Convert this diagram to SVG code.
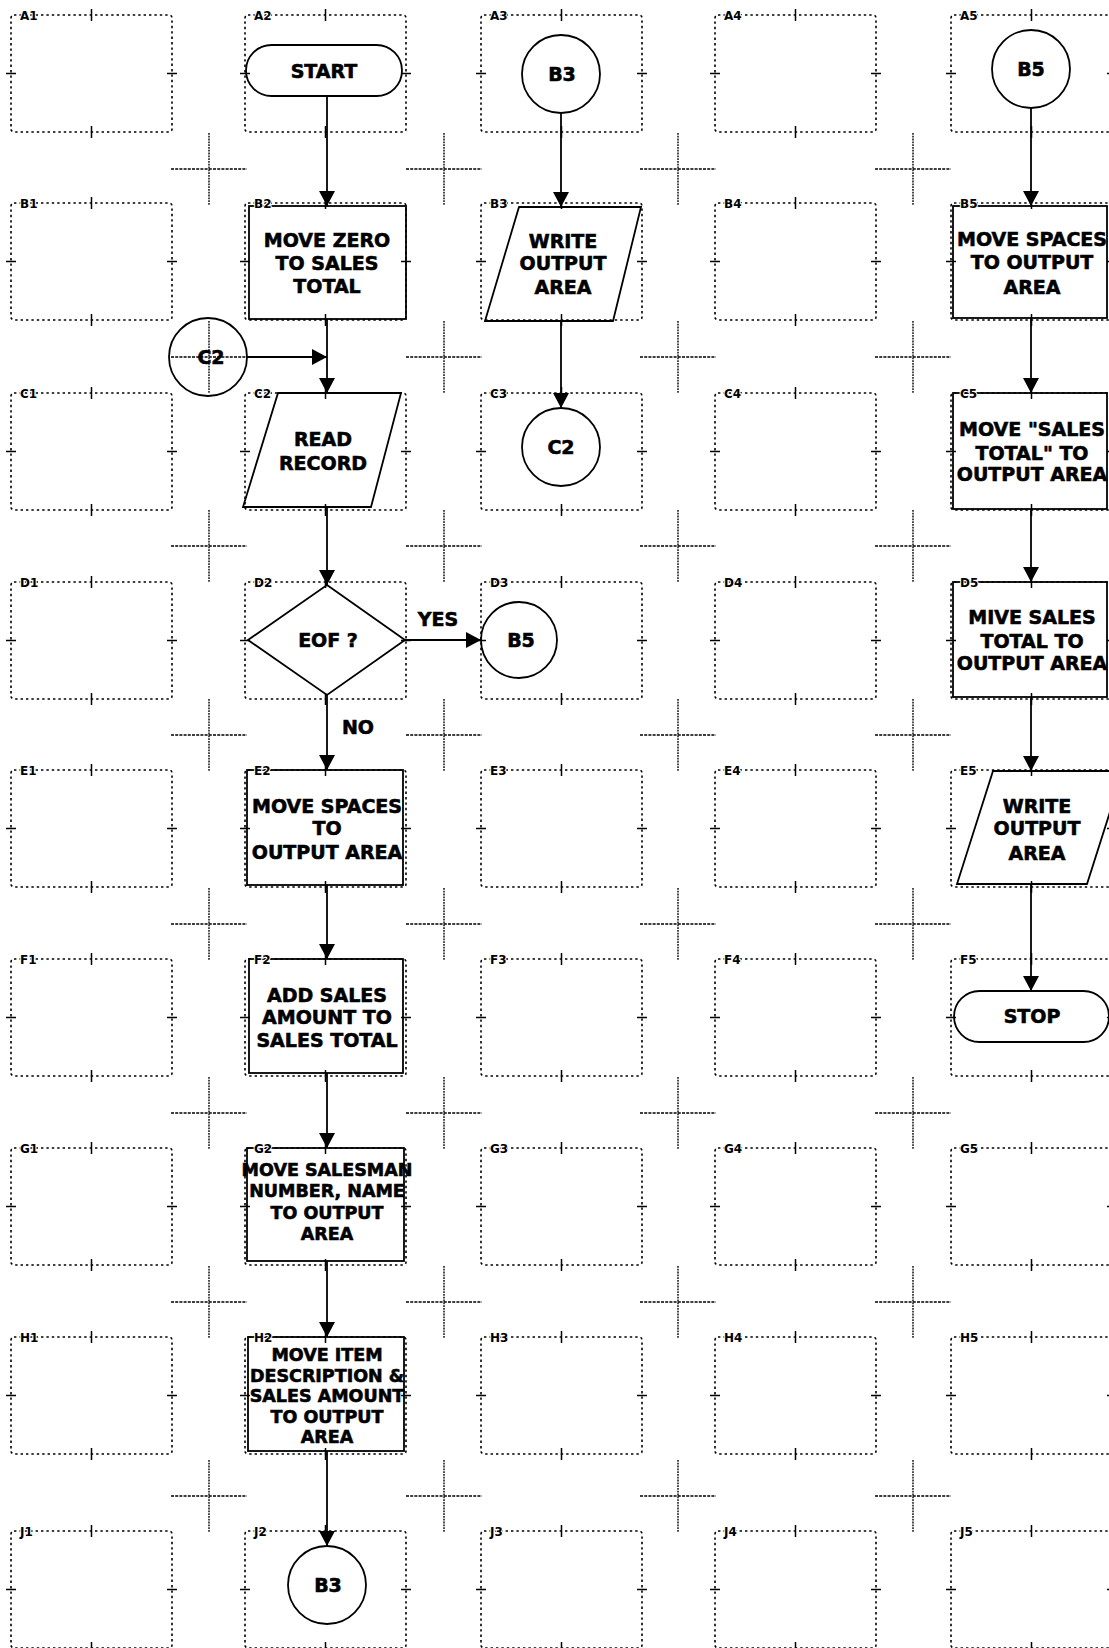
<svg xmlns="http://www.w3.org/2000/svg" width="1109" height="1648" viewBox="0 0 1109 1648">
<style>
.g{fill:none;stroke:#000;stroke-width:1.6;stroke-dasharray:2.4 3}
.tk{stroke:#000;stroke-width:1.5;fill:none}
.xh{stroke:#000;stroke-width:1.4;stroke-dasharray:3 1.2}
.xv{stroke:#000;stroke-width:1.4;stroke-dasharray:1.8 1}
.lb{font-family:'DejaVu Sans','Liberation Sans',sans-serif;font-weight:bold;font-size:12px;fill:#000;stroke:#fff;stroke-width:2;paint-order:stroke}
.s{fill:none;stroke:#000;stroke-width:1.8}
.t{font-family:'DejaVu Sans','Liberation Sans',sans-serif;font-weight:bold;font-size:19px;text-anchor:middle;fill:#000;stroke:#000;stroke-width:0.6}
.ts{font-size:17.5px}
.e{stroke:#000;stroke-width:1.8;fill:none}
.ah{fill:#000;stroke:none}
</style>
<defs>
<marker id="arr" markerUnits="userSpaceOnUse" markerWidth="16" markerHeight="16" refX="15" refY="8" orient="auto">
<path class="ah" d="M0,0 L15,8 L0,16 Z"/>
</marker>
<g id="cell"><rect class="g" x="0" y="0" width="161" height="117" rx="3"/><path class="tk" d="M80.5,-6V6M80.5,111V123M-5,58.5H5M156,58.5H166"/></g>
<g id="cross"><line class="xh" x1="-38" y1="0" x2="38" y2="0"/><line class="xv" x1="0" y1="-36" x2="0" y2="36"/></g>
</defs>
<rect width="1109" height="1648" fill="#fff"/>
<g id="grid">
<use href="#cell" x="11" y="15"/><use href="#cell" x="245" y="15"/><use href="#cell" x="481" y="15"/><use href="#cell" x="715" y="15"/><use href="#cell" x="951" y="15"/>
<use href="#cell" x="11" y="203"/><use href="#cell" x="245" y="203"/><use href="#cell" x="481" y="203"/><use href="#cell" x="715" y="203"/><use href="#cell" x="951" y="203"/>
<use href="#cell" x="11" y="393"/><use href="#cell" x="245" y="393"/><use href="#cell" x="481" y="393"/><use href="#cell" x="715" y="393"/><use href="#cell" x="951" y="393"/>
<use href="#cell" x="11" y="582"/><use href="#cell" x="245" y="582"/><use href="#cell" x="481" y="582"/><use href="#cell" x="715" y="582"/><use href="#cell" x="951" y="582"/>
<use href="#cell" x="11" y="770"/><use href="#cell" x="245" y="770"/><use href="#cell" x="481" y="770"/><use href="#cell" x="715" y="770"/><use href="#cell" x="951" y="770"/>
<use href="#cell" x="11" y="959"/><use href="#cell" x="245" y="959"/><use href="#cell" x="481" y="959"/><use href="#cell" x="715" y="959"/><use href="#cell" x="951" y="959"/>
<use href="#cell" x="11" y="1148"/><use href="#cell" x="245" y="1148"/><use href="#cell" x="481" y="1148"/><use href="#cell" x="715" y="1148"/><use href="#cell" x="951" y="1148"/>
<use href="#cell" x="11" y="1337"/><use href="#cell" x="245" y="1337"/><use href="#cell" x="481" y="1337"/><use href="#cell" x="715" y="1337"/><use href="#cell" x="951" y="1337"/>
<use href="#cell" x="11" y="1531"/><use href="#cell" x="245" y="1531"/><use href="#cell" x="481" y="1531"/><use href="#cell" x="715" y="1531"/><use href="#cell" x="951" y="1531"/>
</g>
<g id="crosshairs">
<use href="#cross" x="209" y="169"/><use href="#cross" x="444" y="169"/><use href="#cross" x="678" y="169"/><use href="#cross" x="913" y="169"/>
<use href="#cross" x="209" y="357"/><use href="#cross" x="444" y="357"/><use href="#cross" x="678" y="357"/><use href="#cross" x="913" y="357"/>
<use href="#cross" x="209" y="546"/><use href="#cross" x="444" y="546"/><use href="#cross" x="678" y="546"/><use href="#cross" x="913" y="546"/>
<use href="#cross" x="209" y="735"/><use href="#cross" x="444" y="735"/><use href="#cross" x="678" y="735"/><use href="#cross" x="913" y="735"/>
<use href="#cross" x="209" y="924"/><use href="#cross" x="444" y="924"/><use href="#cross" x="678" y="924"/><use href="#cross" x="913" y="924"/>
<use href="#cross" x="209" y="1113"/><use href="#cross" x="444" y="1113"/><use href="#cross" x="678" y="1113"/><use href="#cross" x="913" y="1113"/>
<use href="#cross" x="209" y="1302"/><use href="#cross" x="444" y="1302"/><use href="#cross" x="678" y="1302"/><use href="#cross" x="913" y="1302"/>
<use href="#cross" x="209" y="1496"/><use href="#cross" x="444" y="1496"/><use href="#cross" x="678" y="1496"/><use href="#cross" x="913" y="1496"/>
</g>
<g id="connectors" class="e">
<line x1="327" y1="96" x2="327" y2="206" marker-end="url(#arr)"/>
<line x1="327" y1="319" x2="327" y2="393" marker-end="url(#arr)"/>
<line x1="247" y1="357" x2="327" y2="357" marker-end="url(#arr)"/>
<line x1="327" y1="507" x2="327" y2="585" marker-end="url(#arr)"/>
<line x1="405" y1="640" x2="481" y2="640" marker-end="url(#arr)"/>
<line x1="327" y1="695" x2="327" y2="770" marker-end="url(#arr)"/>
<line x1="327" y1="885" x2="327" y2="959" marker-end="url(#arr)"/>
<line x1="327" y1="1073" x2="327" y2="1148" marker-end="url(#arr)"/>
<line x1="327" y1="1261" x2="327" y2="1337" marker-end="url(#arr)"/>
<line x1="327" y1="1451" x2="327" y2="1546" marker-end="url(#arr)"/>
<line x1="561" y1="113" x2="561" y2="207" marker-end="url(#arr)"/>
<line x1="561" y1="321" x2="561" y2="408" marker-end="url(#arr)"/>
<line x1="1031" y1="108" x2="1031" y2="206" marker-end="url(#arr)"/>
<line x1="1031" y1="318" x2="1031" y2="393" marker-end="url(#arr)"/>
<line x1="1031" y1="509" x2="1031" y2="582" marker-end="url(#arr)"/>
<line x1="1031" y1="697" x2="1031" y2="771" marker-end="url(#arr)"/>
<line x1="1031" y1="884" x2="1031" y2="991" marker-end="url(#arr)"/>
<text class="t" x="438" y="626">YES</text>
<text class="t" x="358" y="734">NO</text>
</g>
<g id="start"><rect class="s" x="246" y="45" width="156" height="51" rx="25.5"/><text class="t" x="324" y="78">START</text></g>
<g id="b2"><rect class="s" x="249" y="206" width="157" height="113"/><text class="t" x="327" y="247">MOVE ZERO</text><text class="t" x="327" y="270">TO SALES</text><text class="t" x="327" y="293">TOTAL</text></g>
<g id="c2-in"><circle class="s" cx="208" cy="357" r="39"/><text class="t" x="211" y="364">C2</text></g>
<g id="c2"><polygon class="s" points="278,393 401,393 371,507 243,507"/><text class="t" x="323" y="446">READ</text><text class="t" x="323" y="470">RECORD</text></g>
<g id="d2"><polygon class="s" points="327,585 405,640 327,695 248,640"/><text class="t" x="328" y="647">EOF ?</text></g>
<g id="d3"><circle class="s" cx="519" cy="640" r="38"/><text class="t" x="521" y="647">B5</text></g>
<g id="e2"><rect class="s" x="247" y="770" width="156" height="115"/><text class="t" x="327" y="813">MOVE SPACES</text><text class="t" x="327" y="835">TO</text><text class="t" x="327" y="859">OUTPUT AREA</text></g>
<g id="f2"><rect class="s" x="249" y="959" width="154" height="114"/><text class="t" x="327" y="1002">ADD SALES</text><text class="t" x="327" y="1024">AMOUNT TO</text><text class="t" x="327" y="1047">SALES TOTAL</text></g>
<g id="g2"><rect class="s" x="247" y="1148" width="157" height="113"/><text class="t ts" x="327" y="1176">MOVE SALESMAN</text><text class="t ts" x="327" y="1197">NUMBER, NAME</text><text class="t ts" x="327" y="1219">TO OUTPUT</text><text class="t ts" x="327" y="1240">AREA</text></g>
<g id="h2"><rect class="s" x="248" y="1337" width="156" height="114"/><text class="t ts" x="327" y="1361">MOVE ITEM</text><text class="t ts" x="327" y="1382">DESCRIPTION &amp;</text><text class="t ts" x="327" y="1402">SALES AMOUNT</text><text class="t ts" x="327" y="1423">TO OUTPUT</text><text class="t ts" x="327" y="1443">AREA</text></g>
<g id="j2"><circle class="s" cx="327" cy="1585" r="39"/><text class="t" x="328" y="1592">B3</text></g>
<g id="a3"><circle class="s" cx="561" cy="74" r="39"/><text class="t" x="562" y="81">B3</text></g>
<g id="b3"><polygon class="s" points="519,207 641,207 613,321 485,321"/><text class="t" x="563" y="248">WRITE</text><text class="t" x="563" y="270">OUTPUT</text><text class="t" x="563" y="294">AREA</text></g>
<g id="c3"><circle class="s" cx="561" cy="447" r="39"/><text class="t" x="561" y="454">C2</text></g>
<g id="a5"><circle class="s" cx="1031" cy="69" r="39"/><text class="t" x="1031" y="76">B5</text></g>
<g id="b5"><rect class="s" x="953" y="206" width="154" height="112"/><text class="t" x="1032" y="246">MOVE SPACES</text><text class="t" x="1032" y="269">TO OUTPUT</text><text class="t" x="1032" y="294">AREA</text></g>
<g id="c5"><rect class="s" x="953" y="393" width="154" height="116"/><text class="t" x="1032" y="436">MOVE "SALES</text><text class="t" x="1032" y="460">TOTAL" TO</text><text class="t" x="1032" y="481">OUTPUT AREA</text></g>
<g id="d5"><rect class="s" x="953" y="582" width="154" height="115"/><text class="t" x="1032" y="624">MIVE SALES</text><text class="t" x="1032" y="648">TOTAL TO</text><text class="t" x="1032" y="670">OUTPUT AREA</text></g>
<g id="e5"><polygon class="s" points="993,771 1123,771 1087,884 957,884"/><text class="t" x="1037" y="813">WRITE</text><text class="t" x="1037" y="835">OUTPUT</text><text class="t" x="1037" y="860">AREA</text></g>
<g id="f5"><rect class="s" x="954" y="991" width="155" height="51" rx="25.5"/><text class="t" x="1032" y="1023">STOP</text></g>
<g id="labels">
<text class="lb" x="20" y="20">A1</text><text class="lb" x="254" y="20">A2</text><text class="lb" x="490" y="20">A3</text><text class="lb" x="724" y="20">A4</text><text class="lb" x="960" y="20">A5</text>
<text class="lb" x="20" y="208">B1</text><text class="lb" x="254" y="208">B2</text><text class="lb" x="490" y="208">B3</text><text class="lb" x="724" y="208">B4</text><text class="lb" x="960" y="208">B5</text>
<text class="lb" x="20" y="398">C1</text><text class="lb" x="254" y="398">C2</text><text class="lb" x="490" y="398">C3</text><text class="lb" x="724" y="398">C4</text><text class="lb" x="960" y="398">C5</text>
<text class="lb" x="20" y="587">D1</text><text class="lb" x="254" y="587">D2</text><text class="lb" x="490" y="587">D3</text><text class="lb" x="724" y="587">D4</text><text class="lb" x="960" y="587">D5</text>
<text class="lb" x="20" y="775">E1</text><text class="lb" x="254" y="775">E2</text><text class="lb" x="490" y="775">E3</text><text class="lb" x="724" y="775">E4</text><text class="lb" x="960" y="775">E5</text>
<text class="lb" x="20" y="964">F1</text><text class="lb" x="254" y="964">F2</text><text class="lb" x="490" y="964">F3</text><text class="lb" x="724" y="964">F4</text><text class="lb" x="960" y="964">F5</text>
<text class="lb" x="20" y="1153">G1</text><text class="lb" x="254" y="1153">G2</text><text class="lb" x="490" y="1153">G3</text><text class="lb" x="724" y="1153">G4</text><text class="lb" x="960" y="1153">G5</text>
<text class="lb" x="20" y="1342">H1</text><text class="lb" x="254" y="1342">H2</text><text class="lb" x="490" y="1342">H3</text><text class="lb" x="724" y="1342">H4</text><text class="lb" x="960" y="1342">H5</text>
<text class="lb" x="20" y="1536">J1</text><text class="lb" x="254" y="1536">J2</text><text class="lb" x="490" y="1536">J3</text><text class="lb" x="724" y="1536">J4</text><text class="lb" x="960" y="1536">J5</text>
</g>
</svg>
